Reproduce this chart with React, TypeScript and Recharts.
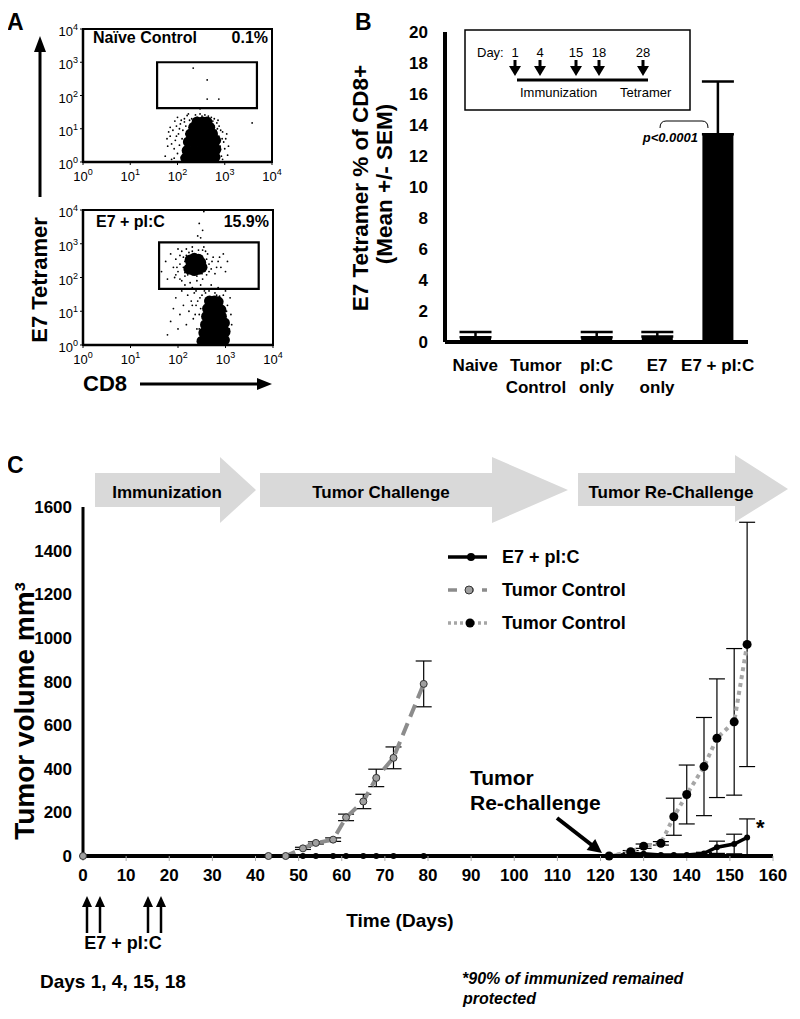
import React from 'react';
import {
  ScatterChart, Scatter, BarChart, Bar, LineChart, Line,
  XAxis, YAxis, ErrorBar, ReferenceArea,
} from 'recharts';

const ARIAL = "'Liberation Sans', Arial, Helvetica, sans-serif";

// ---- panel A: flow cytometry dots, [CD8, E7 tetramer] ----
const naiveCore = [
  [150, 1.3], [200, 1.3], [270, 1.3], [360, 1.3], [480, 1.3], [620, 1.4],
  [160, 2.2], [220, 2.2], [300, 2.2], [400, 2.2], [530, 2.2], [650, 2.4],
  [170, 4], [230, 4], [310, 4], [420, 4], [560, 4], [640, 4.5],
  [190, 7], [250, 7], [330, 7], [440, 7], [550, 7],
  [220, 11], [290, 11], [380, 11], [480, 11],
  [260, 16], [340, 16], [420, 16],
];
const naiveSparse = [
  [55, 1.5], [62, 3], [70, 6], [75, 1.2], [80, 9], [85, 2.5], [90, 4.5], [95, 12], [100, 1.8],
  [105, 7], [110, 3.2], [115, 14], [120, 1.4], [125, 5], [130, 9], [135, 2.2], [140, 16],
  [70, 11], [88, 17], [60, 5], [700, 2], [750, 6], [800, 3], [850, 1.5], [900, 8], [760, 12],
  [680, 15], [720, 18], [950, 4], [1000, 2.5], [1100, 7], [1200, 3], [200, 20], [260, 22],
  [330, 24], [400, 21], [480, 19], [560, 17], [180, 18], [150, 12], [600, 12], [650, 9],
  [160, 25], [140, 20], [120, 18], [100, 22], [170, 28], [240, 26], [300, 28], [380, 26],
  [450, 24], [520, 22], [600, 20], [700, 10], [780, 4], [820, 9], [880, 5], [130, 1.1],
  [110, 10], [95, 6], [85, 1.3], [75, 3.5], [65, 8], [150, 7], [145, 3.5], [155, 1.6],
  [720, 1.2], [900, 1.2], [1050, 5], [1150, 1.6],
  [215, 670], [425, 295], [425, 78], [750, 78], [3800, 15], [300, 40],
];
const immCore = [
  [320, 1.3], [430, 1.3], [580, 1.3], [760, 1.3], [950, 1.4],
  [350, 2.3], [470, 2.3], [620, 2.3], [800, 2.3], [980, 2.5],
  [380, 4], [500, 4], [650, 4], [820, 4], [950, 4.5],
  [400, 7], [520, 7], [660, 7], [820, 7],
  [420, 12], [540, 12], [680, 12], [800, 11],
  [460, 20], [580, 20], [700, 19],
  [170, 180], [220, 160], [270, 175], [320, 200], [190, 260], [250, 250],
  [300, 280], [220, 370], [270, 350], [180, 330],
];
const immSparse = [
  [45, 150], [55, 300], [60, 90], [70, 500], [80, 200], [90, 120], [100, 700], [110, 250],
  [120, 80], [130, 400], [140, 110], [400, 120], [450, 250], [500, 180], [550, 400], [600, 130],
  [700, 300], [800, 200], [900, 500], [1000, 150], [380, 600], [350, 800], [120, 600], [90, 350],
  [100, 150], [110, 90], [130, 200], [140, 300], [150, 450], [160, 120], [170, 550], [180, 130],
  [200, 600], [220, 130], [250, 110], [280, 140], [320, 130], [350, 250], [380, 180], [400, 350],
  [420, 500], [330, 650], [270, 650], [200, 800], [150, 700], [110, 450], [95, 200], [85, 100],
  [140, 140], [450, 150], [520, 300], [650, 200], [750, 400], [1100, 300], [230, 480], [290, 450],
  [60, 2], [70, 5], [80, 12], [90, 25], [100, 3], [110, 8], [120, 40], [130, 15], [140, 60],
  [150, 4], [160, 30], [170, 10], [180, 70], [190, 20], [200, 50], [210, 6], [220, 35],
  [240, 15], [250, 80], [270, 45], [290, 25], [300, 60], [330, 90], [360, 40], [250, 3],
  [280, 8], [1200, 3], [1300, 8], [1100, 15], [1250, 25], [900, 30], [1000, 40], [700, 50],
  [600, 35], [500, 60], [280, 3], [300, 12], [320, 30], [380, 35], [450, 40], [550, 45],
  [650, 30], [750, 28], [850, 20], [1050, 10], [1150, 2], [1350, 4], [260, 20], [240, 40],
  [230, 8], [200, 15], [300, 1500], [330, 2500], [280, 4000], [350, 9000], [260, 1700],
];
const naiveGate = { x1: 37, x2: 4800, y1: 42, y2: 1000 };
const immGate = { x1: 40, x2: 5000, y1: 46, y2: 1100 };
const logTicks = [1, 10, 100, 1000, 10000];

// ---- panel B ----
const groups = ['Naive', 'Tumor|Control', 'pI:C|only', 'E7|only', 'E7 + pI:C'];
const tetramerPct = [0.3, 0, 0.3, 0.35, 13.4];
const tetramerSem = [0.35, 0, 0.35, 0.3, 3.4];
const pctTicks = [0, 2, 4, 6, 8, 10, 12, 14, 16, 18, 20];

// ---- panel C ----
const e7Days = [0, 51, 54, 58, 61, 65, 68, 72, 79, 122, 127, 130, 134, 137, 140, 144, 147, 151, 154];
const e7Vol = [0, 0, 0, 0, 0, 0, 0, 0, 0, 0, 8, 10, 5, 5, 5, 12, 40, 55, 85];
const e7Err = [0, 0, 0, 0, 0, 0, 0, 0, 0, 0, 0, 0, 0, 0, 0, 5, 28, 45, 85];
const ctrlDays = [0, 43, 47, 51, 54, 58, 61, 65, 68, 72, 79];
const ctrlVol = [0, 0, 0, 35, 60, 75, 177, 250, 358, 450, 789];
const ctrlErr = [0, 0, 0, 5, 5, 8, 15, 33, 40, 50, 105];
const reDays = [122, 127, 130, 134, 137, 140, 144, 147, 151, 154];
const reVol = [0, 20, 45, 58, 180, 282, 410, 540, 615, 970];
const reErr = [0, 5, 10, 8, 85, 135, 225, 272, 336, 560];
const dayTicks = [0, 10, 20, 30, 40, 50, 60, 70, 80, 90, 100, 110, 120, 130, 140, 150, 160];
const volTicks = [0, 200, 400, 600, 800, 1000, 1200, 1400, 1600];

const toDots = (pts: number[][]) => pts.map(([cd8, tet]) => ({ cd8, tet }));
const toSeries = (days: number[], vol: number[], err: number[]) =>
  days.map((day, i) => ({ day, vol: vol[i], err: err[i] }));

const barData = groups.map((g, i) => ({ group: g, pct: tetramerPct[i], sem: [0, tetramerSem[i]] }));

const LogTick = (props: any) => {
  const { x, y, payload, axis } = props;
  const exp = Math.round(Math.log10(payload.value));
  if (axis === 'x') {
    return (
      <text x={x} y={y + 14} textAnchor="middle" fontFamily={ARIAL} fontSize={13} fill="#000">
        10<tspan dy={-6} fontSize={9}>{exp}</tspan>
      </text>
    );
  }
  return (
    <text x={x} y={y + 7} textAnchor="end" fontFamily={ARIAL} fontSize={13} fill="#000">
      10<tspan dy={-6} fontSize={9}>{exp}</tspan>
    </text>
  );
};

const SmallDot = (p: any) => <circle cx={p.cx} cy={p.cy} r={0.9} fill="#000" />;
const Blob = (p: any) => <circle cx={p.cx} cy={p.cy} r={5.5} fill="#000" />;

function FlowPlot({ core, sparse, gate, top, bottom, right }: any) {
  const w = right + 18;
  const h = bottom + 38;
  return (
    <div style={{ position: 'absolute', left: 0, top: 0 }}>
      <ScatterChart width={w} height={h} margin={{ top, right: w - right, left: 0, bottom: 8 }}>
        <XAxis
          type="number" dataKey="cd8" scale="log" domain={[1, 10000]} ticks={logTicks}
          allowDataOverflow interval={0} height={30} tickSize={3}
          axisLine={{ stroke: '#000', strokeWidth: 2.5 }} tickLine={{ stroke: '#000' }}
          tick={(p: any) => <LogTick {...p} axis="x" />}
        />
        <YAxis
          type="number" dataKey="tet" scale="log" domain={[1, 10000]} ticks={logTicks}
          allowDataOverflow interval={0} width={83} tickSize={3}
          axisLine={{ stroke: '#000', strokeWidth: 2.5 }} tickLine={{ stroke: '#000' }}
          tick={(p: any) => <LogTick {...p} axis="y" />}
        />
        <ReferenceArea x1={1} x2={10000} y1={1} y2={10000} fill="none" stroke="#000" strokeWidth={2} ifOverflow="visible" />
        <Scatter data={toDots(sparse)} shape={SmallDot} isAnimationActive={false} />
        <Scatter data={toDots(core)} shape={Blob} isAnimationActive={false} />
        <ReferenceArea x1={gate.x1} x2={gate.x2} y1={gate.y1} y2={gate.y2} fill="none" stroke="#000" strokeWidth={2.2} ifOverflow="visible" />
      </ScatterChart>
    </div>
  );
}

const GroupTick = (props: any) => {
  const { x, y, payload } = props;
  const lines = String(payload.value).split('|');
  return (
    <text x={x} y={y} textAnchor="middle" fontFamily={ARIAL} fontWeight="bold" fontSize={17} fill="#000">
      {lines.map((l, i) => (
        <tspan key={i} x={x} dy={i === 0 ? 29 : 22}>{l}</tspan>
      ))}
    </text>
  );
};

function TetramerBars() {
  return (
    <div style={{ position: 'absolute', left: 0, top: 0 }}>
      <BarChart width={760} height={400} data={barData} margin={{ top: 32, right: 12, left: 400, bottom: 8 }} barSize={31}>
        <XAxis
          dataKey="group" height={50} tickLine={false} tickSize={0} tickMargin={0} interval={0}
          axisLine={{ stroke: '#000', strokeWidth: 4 }} tick={<GroupTick />}
        />
        <YAxis
          domain={[0, 20]} ticks={pctTicks} width={45} tickLine={false} tickSize={0} tickMargin={17}
          axisLine={{ stroke: '#000', strokeWidth: 4 }}
          tick={{ fill: '#000', fontFamily: ARIAL, fontWeight: 'bold', fontSize: 17 }}
        />
        <Bar dataKey="pct" fill="#000" isAnimationActive={false}>
          <ErrorBar dataKey="sem" width={16} stroke="#000" strokeWidth={2.5} direction="y" />
        </Bar>
      </BarChart>
    </div>
  );
}

function TumorGrowth() {
  const tickStyle = { fill: '#000', fontFamily: ARIAL, fontWeight: 'bold', fontSize: 17 };
  return (
    <div style={{ position: 'absolute', left: 0, top: 0 }}>
      <LineChart width={790} height={906} margin={{ top: 507, right: 17, left: 0, bottom: 10 }}>
        <XAxis
          type="number" dataKey="day" domain={[0, 160]} ticks={dayTicks} interval={0} height={40}
          axisLine={{ stroke: '#000', strokeWidth: 4 }} tickLine={{ stroke: '#aaa' }}
          tickSize={5} tickMargin={8} tick={tickStyle}
        />
        <YAxis
          type="number" domain={[0, 1600]} ticks={volTicks} interval={0} width={83}
          axisLine={{ stroke: '#000', strokeWidth: 3 }} tickLine={false} tickSize={0} tickMargin={11}
          tick={tickStyle}
        />
        <Line
          data={toSeries(e7Days, e7Vol, e7Err)} dataKey="vol" stroke="#000" strokeWidth={3.5}
          dot={{ r: 3, fill: '#000', stroke: '#000', strokeWidth: 0 }} isAnimationActive={false}
        >
          <ErrorBar dataKey="err" direction="y" width={8} stroke="#000" strokeWidth={1.2} />
        </Line>
        <Line
          data={toSeries(ctrlDays, ctrlVol, ctrlErr)} dataKey="vol" stroke="#8c8c8c" strokeWidth={4}
          strokeDasharray="13 7"
          dot={{ r: 3.5, fill: '#a0a0a0', stroke: '#333', strokeWidth: 1, strokeDasharray: 'none' }}
          isAnimationActive={false}
        >
          <ErrorBar dataKey="err" direction="y" width={8} stroke="#000" strokeWidth={1.2} />
        </Line>
        <Line
          data={toSeries(reDays, reVol, reErr)} dataKey="vol" stroke="#a6a6a6" strokeWidth={4}
          strokeDasharray="4 4"
          dot={{ r: 4.5, fill: '#000', stroke: '#000', strokeWidth: 0, strokeDasharray: 'none' }}
          isAnimationActive={false}
        >
          <ErrorBar dataKey="err" direction="y" width={8} stroke="#000" strokeWidth={1.2} />
        </Line>
      </LineChart>
    </div>
  );
}

function UpArrow({ x, y1, y2 }: any) {
  return (
    <g>
      <line x1={x} y1={y2} x2={x} y2={y1 + 8} stroke="#000" strokeWidth={2.5} />
      <polygon points={`${x},${y1} ${x - 5},${y1 + 11} ${x + 5},${y1 + 11}`} fill="#000" />
    </g>
  );
}

function DownArrow({ x }: any) {
  return (
    <g>
      <line x1={x} y1={60} x2={x} y2={68} stroke="#000" strokeWidth={3} />
      <polygon points={`${x - 6},${66} ${x + 6},${66} ${x},${76}`} fill="#000" />
    </g>
  );
}

function Overlay() {
  const bold = { fontFamily: ARIAL, fontWeight: 'bold' as const, fill: '#000' };
  return (
    <svg width={800} height={1019} style={{ position: 'absolute', left: 0, top: 0, pointerEvents: 'none' }}>
      {/* panel A */}
      <text x={7} y={30} fontSize={23} {...bold}>A</text>
      <line x1={40} y1={197} x2={40} y2={48} stroke="#000" strokeWidth={3} />
      <polygon points="40,36 34,52 46,52" fill="#000" />
      <text x={47} y={280} fontSize={22} textAnchor="middle" transform="rotate(-90 47 280)" {...bold}>E7 Tetramer</text>
      <text x={83} y={391} fontSize={22} {...bold}>CD8</text>
      <line x1={140} y1={384} x2={260} y2={384} stroke="#000" strokeWidth={3} />
      <polygon points="272,384 257,378 257,390" fill="#000" />
      <text x={93} y={43} fontSize={16} {...bold}>Naïve Control</text>
      <text x={268} y={43} fontSize={16} textAnchor="end" {...bold}>0.1%</text>
      <text x={96} y={227} fontSize={16} {...bold}>E7 + pI:C</text>
      <text x={269} y={227} fontSize={16} textAnchor="end" {...bold}>15.9%</text>

      {/* panel B */}
      <text x={355} y={30} fontSize={23} {...bold}>B</text>
      <text x={368} y={188} fontSize={22.5} textAnchor="middle" transform="rotate(-90 368 188)" {...bold}>E7 Tetramer % of CD8+</text>
      <text x={392} y={184} fontSize={22.5} textAnchor="middle" transform="rotate(-90 392 184)" {...bold}>(Mean +/- SEM)</text>
      <rect x={465} y={30} width={225} height={80} fill="none" stroke="#000" strokeWidth={1.5} />
      <text x={477} y={57} fontSize={13} fontFamily={ARIAL}>Day:</text>
      {[[515, '1'], [540, '4'], [576, '15'], [599, '18'], [643, '28']].map(([x, t]) => (
        <g key={String(t)}>
          <text x={Number(x)} y={57} fontSize={13} fontFamily={ARIAL} textAnchor="middle">{t}</text>
          <DownArrow x={Number(x)} />
        </g>
      ))}
      <line x1={517} y1={80} x2={648} y2={80} stroke="#000" strokeWidth={3} />
      <text x={520} y={97} fontSize={13} fontFamily={ARIAL}>Immunization</text>
      <text x={620} y={97} fontSize={13} fontFamily={ARIAL}>Tetramer</text>
      <path d="M660,128 Q660,121 666,121 L702,121 Q708,121 708,128" fill="none" stroke="#000" strokeWidth={1} />
      <text x={698} y={142} fontSize={13} fontStyle="italic" textAnchor="end" {...bold}>p&lt;0.0001</text>

      {/* panel C */}
      <text x={7} y={473} fontSize={23} {...bold}>C</text>
      <polygon points="95,473 220,473 220,457 256,490 220,523 220,507 95,507" fill="#d9d9d9" />
      <polygon points="260,473 492,473 492,457 568,490 492,523 492,507 260,507" fill="#d9d9d9" />
      <polygon points="578,473 735,473 735,455 788,489 735,522 735,506 578,506" fill="#d9d9d9" />
      <text x={167} y={498} fontSize={17} textAnchor="middle" {...bold}>Immunization</text>
      <text x={381} y={498} fontSize={17} textAnchor="middle" {...bold}>Tumor Challenge</text>
      <text x={671} y={498} fontSize={17} textAnchor="middle" {...bold}>Tumor Re-Challenge</text>
      <text x={34} y={711} fontSize={28} textAnchor="middle" transform="rotate(-90 34 711)" {...bold}>Tumor volume mm³</text>

      {/* legend */}
      <line x1={448} y1={557} x2={487} y2={557} stroke="#000" strokeWidth={3.5} />
      <circle cx={471} cy={557} r={4} fill="#000" />
      <text x={502} y={563} fontSize={18} {...bold}>E7 + pI:C</text>
      <line x1={448} y1={590} x2={487} y2={590} stroke="#8c8c8c" strokeWidth={3.5} strokeDasharray="9 8" />
      <circle cx={469} cy={590} r={4} fill="#a0a0a0" stroke="#333" strokeWidth={1} />
      <text x={502} y={596} fontSize={18} {...bold}>Tumor Control</text>
      <line x1={448} y1={623} x2={487} y2={623} stroke="#a6a6a6" strokeWidth={3.5} strokeDasharray="3 3" />
      <circle cx={470} cy={623} r={4.5} fill="#000" />
      <text x={502} y={629} fontSize={18} {...bold}>Tumor Control</text>

      <text x={470} y={785} fontSize={21} {...bold}>Tumor</text>
      <text x={470} y={810} fontSize={21} {...bold}>Re-challenge</text>
      <line x1={557} y1={818} x2={593} y2={846} stroke="#000" strokeWidth={4} />
      <polygon points="602,853 586.6,849.9 595.2,838.9" fill="#000" />
      <text x={756} y={835} fontSize={22} {...bold}>*</text>

      <text x={400} y={927} fontSize={19} textAnchor="middle" {...bold}>Time (Days)</text>
      <UpArrow x={87} y1={896} y2={933} />
      <UpArrow x={100} y1={896} y2={933} />
      <UpArrow x={148} y1={896} y2={933} />
      <UpArrow x={161} y1={896} y2={933} />
      <text x={123} y={949} fontSize={18} textAnchor="middle" {...bold}>E7 + pI:C</text>
      <text x={40} y={988} fontSize={19} {...bold}>Days 1, 4, 15, 18</text>
      <text x={462} y={984} fontSize={16} fontStyle="italic" {...bold}>*90% of immunized remained</text>
      <text x={463} y={1004} fontSize={16} fontStyle="italic" {...bold}>protected</text>
    </svg>
  );
}

export default function App() {
  return (
    <div style={{ position: 'relative', width: 800, height: 1019, margin: -8, background: '#fff', overflow: 'hidden' }}>
      <FlowPlot core={naiveCore} sparse={naiveSparse} gate={naiveGate} top={29} bottom={162} right={272} />
      <FlowPlot core={immCore} sparse={immSparse} gate={immGate} top={210} bottom={345} right={273} />
      <TetramerBars />
      <TumorGrowth />
      <Overlay />
    </div>
  );
}
